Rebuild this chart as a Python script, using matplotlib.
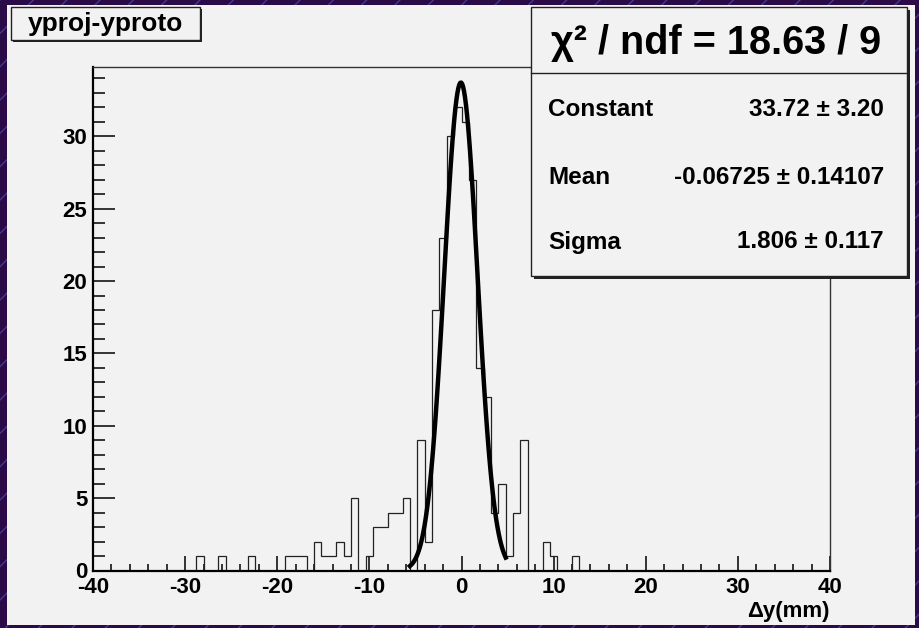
import numpy as np
import matplotlib.pyplot as plt
from matplotlib.patches import Rectangle

plt.rcParams["font.family"] = ["Liberation Sans", "DejaVu Sans"]
plt.rcParams["font.weight"] = "bold"
plt.rcParams["hatch.linewidth"] = 1.0

# binning of the y residual histogram
N_BINS = 100
X_LOW, X_HIGH = -40.0, 40.0

# lower edges of the filled bins and their entries
bin_low = [-28.8, -26.4, -23.2, -19.2, -18.4, -17.6, -16.0, -15.2, -14.4, -13.6,
           -12.8, -12.0, -10.4, -9.6, -8.8, -8.0, -7.2, -6.4, -4.8, -4.0,
           -3.2, -2.4, -1.6, -0.8, 0.0, 0.8, 1.6, 2.4, 3.2, 4.0,
           4.8, 5.6, 6.4, 8.8, 9.6, 12.0]
entries = [1, 1, 1, 1, 1, 1, 2, 1, 1, 2,
           1, 5, 1, 3, 3, 4, 4, 5, 9, 2,
           18, 23, 30, 32, 31, 27, 14, 12, 4, 6,
           1, 4, 9, 2, 1, 1]

# gaussian fit result
FIT_CONST, FIT_CONST_ERR = 33.72, 3.20
FIT_MEAN, FIT_MEAN_ERR = -0.06725, 0.14107
FIT_SIGMA, FIT_SIGMA_ERR = 1.806, 0.117
FIT_RANGE = (-5.6, 4.8)
CHI2, NDF = 18.63, 9

x_ticks = [-40, -30, -20, -10, 0, 10, 20, 30, 40]
y_ticks = [0, 5, 10, 15, 20, 25, 30]


def gaus(x):
    return FIT_CONST * np.exp(-0.5 * ((x - FIT_MEAN) / FIT_SIGMA) ** 2)


width = (X_HIGH - X_LOW) / N_BINS
edges = X_LOW + width * np.arange(N_BINS + 1)
counts = np.zeros(N_BINS)
for lo, n in zip(bin_low, entries):
    counts[int(round((lo - X_LOW) / width))] = n

centers = 0.5 * (edges[:-1] + edges[1:])
in_range = (centers > FIT_RANGE[0]) & (centers < FIT_RANGE[1])
y_top = 1.05 * max(counts.max(), gaus(centers[in_range]).max())

W, H = 919, 628
fig = plt.figure(figsize=(W / 100, H / 100), dpi=100)
fig.patch.set_facecolor("#2b0a48")


def fx(px):
    return px / W


def fy(py):
    return 1 - py / H


# canvas backdrop and pad
fig.add_artist(Rectangle((0, 0), 1, 1, transform=fig.transFigure, facecolor="#2b0a48",
                         edgecolor="#45388f", hatch="/", lw=0, zorder=-3))
fig.add_artist(Rectangle((fx(7), fy(625)), fx(915) - fx(7), (625 - 5) / H,
                         transform=fig.transFigure, facecolor="#f2f2f2", lw=0, zorder=-2))

ax = fig.add_axes([fx(93), fy(570.5), fx(830) - fx(93), (570.5 - 66.7) / H])
ax.set_facecolor("none")

ax.stairs(counts, edges, color="#222222", lw=0.9, zorder=2)

xf = np.linspace(FIT_RANGE[0], FIT_RANGE[1], 100)
ax.plot(xf, gaus(xf), color="black", lw=3.2, zorder=3)

ax.set_xlim(X_LOW, X_HIGH)
ax.set_ylim(0, y_top)
ax.set_xticks(x_ticks)
ax.set_xticklabels([str(v) for v in x_ticks])
ax.set_yticks(y_ticks)
ax.set_xticks(np.arange(-38, 40, 2), minor=True)
ax.set_yticks(np.arange(0, 35, 1), minor=True)

ax.tick_params(axis="x", which="major", direction="in", length=11, width=1.1,
               labelsize=16, pad=4.5)
ax.tick_params(axis="x", which="minor", direction="in", length=5, width=1.1)
ax.tick_params(axis="y", which="major", direction="in", length=16, width=1.1,
               labelsize=16, pad=4)
ax.tick_params(axis="y", which="minor", direction="in", length=8.5, width=1.1)

for side in ("left", "bottom"):
    ax.spines[side].set_linewidth(1.6)
    ax.spines[side].set_color("black")
for side in ("top", "right"):
    ax.spines[side].set_linewidth(1.0)
    ax.spines[side].set_color("#333333")

fig.text(fx(830), fy(611), "\u0394y(mm)", ha="right", va="center", fontsize=16)


def pave(x0, y0, x1, y1, shadow=3):
    fig.add_artist(Rectangle((fx(x0 + shadow), fy(y1 + shadow)), fx(x1) - fx(x0), (y1 - y0) / H,
                             transform=fig.transFigure, facecolor="#222222", lw=0, zorder=4))
    fig.add_artist(Rectangle((fx(x0), fy(y1)), fx(x1) - fx(x0), (y1 - y0) / H,
                             transform=fig.transFigure, facecolor="#f2f2f2",
                             edgecolor="#222222", lw=1.0, zorder=5))


# histogram title
pave(11, 7, 200, 40, shadow=2)
fig.text(fx(105.5), fy(23.5), "yproj-yproto", ha="center", va="center",
         fontsize=19, zorder=6)

# fit statistics box
pave(531, 7, 907, 276, shadow=3)
fig.add_artist(plt.Line2D([fx(531), fx(907)], [fy(73), fy(73)], transform=fig.transFigure,
                          color="#222222", lw=1.0, zorder=6))
fig.text(fx(716), fy(43), f"\u03c7\u00b2 / ndf = {CHI2:.2f} / {NDF}", ha="center",
         va="center", fontsize=28.5, zorder=6)

rows = [
    ("Constant", f"{FIT_CONST:.2f} \u00b1 {FIT_CONST_ERR:.2f}", 110),
    ("Mean", f"{FIT_MEAN:.5f} \u00b1 {FIT_MEAN_ERR:.5f}", 177),
    ("Sigma", f"{FIT_SIGMA:.3f} \u00b1 {FIT_SIGMA_ERR:.3f}", 242),
]
for name, value, py in rows:
    fig.text(fx(548), fy(py), name, ha="left", va="center", fontsize=17.5, zorder=6)
    fig.text(fx(884), fy(py), value, ha="right", va="center", fontsize=17.5, zorder=6)

fig.savefig("out.png", dpi=100, facecolor=fig.get_facecolor())
